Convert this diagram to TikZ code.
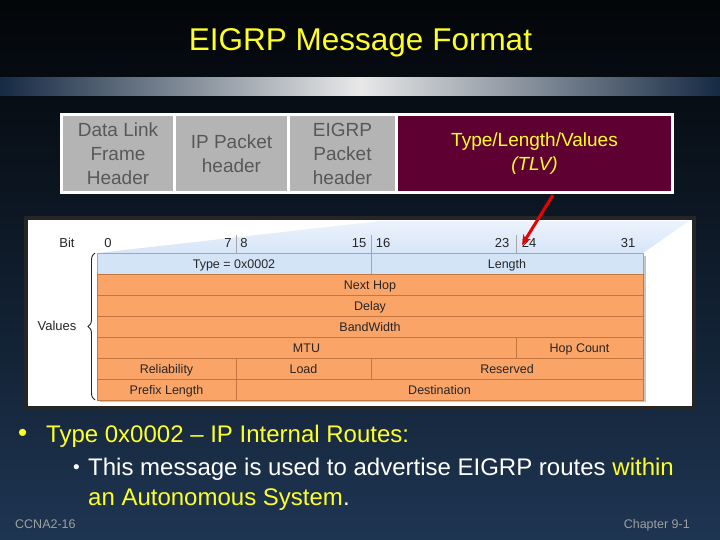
\documentclass[tikz,border=0pt]{standalone}
\usepackage{fontspec}
\setmainfont{Liberation Sans}
\usetikzlibrary{positioning, arrows.meta, decorations.pathreplacing}
\definecolor{Bgtop}{RGB}{3,5,8}
\definecolor{Bgmid}{RGB}{15,28,43}
\definecolor{Bgbot}{RGB}{30,53,82}
\definecolor{Bardark}{RGB}{22,42,68}
\definecolor{Tyellow}{RGB}{255,255,40}
\definecolor{Hgrey}{RGB}{180,180,180}
\definecolor{Hgreytxt}{RGB}{88,88,88}
\definecolor{Tlvred}{RGB}{95,0,50}
\definecolor{Forange}{RGB}{250,164,104}
\definecolor{Fline}{RGB}{196,118,62}
\definecolor{Fblue}{RGB}{212,228,247}
\definecolor{Fanhi}{RGB}{236,243,252}
\definecolor{Fanlo}{RGB}{214,229,248}

\begin{document}
\begin{tikzpicture}[x=1pt, y=-1pt,
  hbox/.style={rectangle, fill=Hgrey, text=Hgreytxt, outer sep=0pt,
               minimum height=75pt, inner sep=0pt, align=center,
               font=\fontsize{19}{24}\selectfont},
  cell/.style={rectangle, draw=Fline, fill=Forange, outer sep=0pt,
               minimum height=21pt, inner sep=0pt, text=black!85,
               text height=9pt, text depth=0pt,
               font=\fontsize{12.5}{14}\selectfont},
  hcell/.style={cell, draw=gray!70, fill=Fblue},
  bitno/.style={font=\fontsize{13}{15}\selectfont, text=black!85, inner sep=0pt},
  tick/.style={gray!70, line width=0.8pt},
  redarr/.style={-{Stealth[length=10pt, width=9pt]}, line width=3pt, color=red!92!black},
  txt/.style={anchor=base west, inner sep=0pt, font=\fontsize{24}{28}\selectfont},
  foot/.style={inner sep=0pt, text=gray!75, font=\fontsize{12.5}{14}\selectfont}
]
\useasboundingbox (0,0) rectangle (720,540);

%% ─── Fondo y titulo ─────────────────────────────────────────
\shade[top color=Bgtop, bottom color=Bgbot, middle color=Bgmid] (0,0) rectangle (720,540);
\shade[left color=Bardark, right color=Bardark, middle color=gray!18] (0,78) rectangle (720,96);
\node[anchor=base, inner sep=0pt, text=Tyellow, font=\fontsize{31.5}{36}\selectfont]
  (title) at (360.5,51) {EIGRP Message Format};

%% ─── Cabeceras del paquete ──────────────────────────────────
\fill[white] (60,113) rectangle (674,194);
\node[hbox, minimum width=110pt]             (b1) at (118,153.5) {Data Link\\Frame\\Header};
\node[hbox, minimum width=111pt, right=3pt of b1] (b2) {IP Packet\\header};
\node[hbox, minimum width=105pt, right=3pt of b2] (b3) {EIGRP\\Packet\\header};
\node[hbox, minimum width=273pt, right=3pt of b3, fill=Tlvred, text=Tyellow]
  (tlv) {Type/Length/Values\\\textit{(TLV)}};

%% ─── Formato TLV ────────────────────────────────────────────
\filldraw[fill=white, draw=black!85, line width=4pt] (26,218) rectangle (694,407.5);
\shade[top color=Fanhi, bottom color=Fanlo] (98,253) -- (380,221) -- (689,221) -- (643,253) -- cycle;
\fill[gray!45] (100,256) rectangle (646,402);

\node[bitno] (bit) at (67,243) {Bit};
\foreach \x/\n in {108/0, 228/7, 244/8, 359/15, 383/16, 502/23, 529/24, 628/31}
  \node[bitno] (n\n) at (\x,243) {\n};
\foreach \x in {236, 371, 516}
  \draw[tick] (\x,235) -- (\x,253);

\node[hcell, minimum width=274pt] (type)  at (234,263.5) {Type = 0x0002};
\node[hcell, minimum width=272pt] (len)   at (507,263.5) {Length};
\node[cell,  minimum width=546pt] (nhop)  at (370,284.5) {Next Hop};
\node[cell,  minimum width=546pt] (delay) at (370,305.5) {Delay};
\node[cell,  minimum width=546pt] (bw)    at (370,326.5) {BandWidth};
\node[cell,  minimum width=419pt] (mtu)   at (306.5,347.5) {MTU};
\node[cell,  minimum width=127pt] (hops)  at (579.5,347.5) {Hop Count};
\node[cell,  minimum width=139pt] (rel)   at (166.5,368.5) {Reliability};
\node[cell,  minimum width=135pt] (load)  at (303.5,368.5) {Load};
\node[cell,  minimum width=272pt] (resv)  at (507,368.5) {Reserved};
\node[cell,  minimum width=139pt] (plen)  at (166.5,389.5) {Prefix Length};
\node[cell,  minimum width=407pt] (dest)  at (439.5,389.5) {Destination};

\draw[black!85, line width=0.9pt, decorate, decoration={brace, amplitude=7pt}]
  ([xshift=-2pt]plen.south west) -- ([xshift=-2pt]type.north west);
\node[bitno] (vals) at (57,326) {Values};

\coordinate (tip) at (522,245);
\draw[redarr] ([xshift=18.5pt, yshift=-4pt]tlv.south) -- (tip);

%% ─── Texto ──────────────────────────────────────────────────
\node[txt, text=Tyellow, font=\fontsize{26}{28}\selectfont] (d1) at (18,441) {•};
\node[txt, text=Tyellow] (l1) at (46,442) {Type 0x0002 – IP Internal Routes:};
\node[txt, text=white, font=\fontsize{19}{22}\selectfont] (d2) at (73,473) {•};
\node[txt, text=white] (l2) at (88,475)
  {This message is used to advertise EIGRP routes \textcolor{Tyellow}{within}};
\node[txt, text=white] (l3) at (88,505) {\textcolor{Tyellow}{an Autonomous System}.};

\node[foot, anchor=base west] (ccna) at (15,528) {CCNA2-16};
\node[foot, anchor=base east] (chap) at (690,528) {Chapter 9-1};

\end{tikzpicture}
\end{document}
